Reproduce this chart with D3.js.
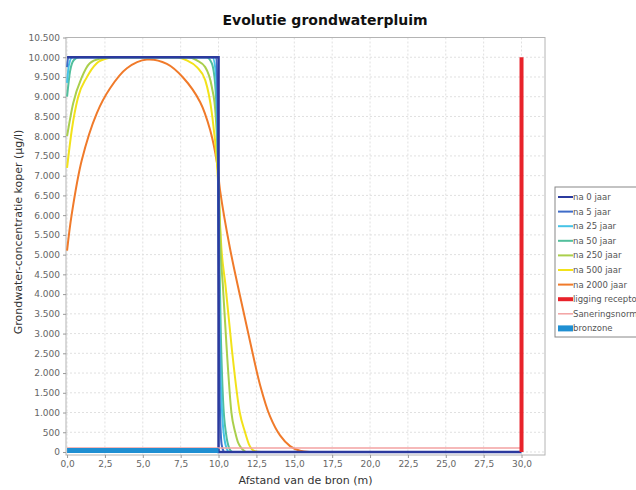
<!DOCTYPE html>
<html lang="nl">
<head>
    <meta charset="UTF-8">
    <script src="https://cdnjs.cloudflare.com/ajax/libs/d3/7.8.5/d3.min.js"></script>
    <title>Evolutie grondwaterpluim</title>
    <style>
        body { margin: 0; background: #fff; }
        text { font-family: "DejaVu Sans", Verdana, sans-serif; }
    </style>
</head>
<body>
<script>
    // afstand (m) en concentratie (µg/l) per tijdstip
    var na0 = [[0,10000],[10,10000],[10,0],[30,0]];
    var na5 = [[0,9750],[0.08,10000],[9.85,10000],[9.95,8500],[10.0,5000],[10.07,1500],[10.2,200],[10.35,0]];
    var na25 = [[0,9350],[0.12,9800],[0.35,10000],[9.6,10000],[9.82,9600],[9.95,7800],[10.02,5000],[10.1,2600],[10.25,900],[10.45,200],[10.65,0]];
    var na50 = [[0,9000],[0.2,9650],[0.45,9930],[0.8,10000],[9.2,10000],[9.55,9850],[9.8,9200],[9.95,7500],[10.05,5000],[10.15,3000],[10.3,1300],[10.5,450],[10.7,100],[10.9,0]];
    var na250 = [[0,8000],[0.4,8830],[0.97,9490],[1.5,9850],[2.2,9970],[2.8,10000],[8.0,10000],[8.57,9920],[9.12,9750],[9.56,9240],[9.8,8580],[10.0,7000],[10.15,5000],[10.28,4250],[10.54,2600],[10.85,1000],[11.1,500],[11.3,230],[11.8,0]];
    var na500 = [[0,7200],[0.31,8150],[0.73,8990],[1.3,9490],[1.96,9850],[2.6,9970],[3.2,10000],[7.2,10000],[7.9,9920],[8.57,9750],[9.12,9420],[9.56,8580],[9.9,7300],[10.2,5100],[10.45,4250],[10.88,2600],[11.4,1000],[11.75,500],[12.0,200],[12.4,20],[12.8,0]];
    var na2000 = [[0,5100],[0.3,6000],[0.97,7390],[1.96,8580],[2.84,9215],[3.95,9720],[5.27,9940],[6.59,9830],[7.67,9480],[8.79,8860],[9.45,8150],[9.9,7316],[10.1,6630],[10.76,5150],[11.42,3950],[12.08,2800],[12.74,1700],[13.4,900],[14.06,420],[14.72,150],[15.38,30],[16,0]];
    var receptor = [[30,0],[30,10000]];
    var norm = [[0,100],[30,100]];
    var bron = [[0,40],[10,40]];

    var xTicks = [0,2.5,5,7.5,10,12.5,15,17.5,20,22.5,25,27.5,30];
    var yTicks = d3.range(0, 10501, 500);

    var legendNames = ['na 0 jaar','na 5 jaar','na 25 jaar','na 50 jaar','na 250 jaar','na 500 jaar','na 2000 jaar','ligging receptor','Saneringsnorm','bronzone'];
    var legendColors = ['#2b3a9e','#3f6cc8','#46c3e6','#52bf9c','#aacf4c','#f2e21a','#f07a2a','#e8222a','#f3a2a2','#1f8fd2'];
    var legendWidths = [2,2,2,2,2,2,2,4,1.5,6];

    var width = 636, height = 490;
    var pl = 66, pr = 545, pt = 37.5, pb = 455;

    var x = d3.scaleLinear().domain([-0.07, 31.55]).range([pl, pr]);
    var y = d3.scaleLinear().domain([-76, 10500]).range([pb, pt]);

    var svg = d3.select('body').append('svg')
        .attr('width', width).attr('height', height);

    // rasterlijnen
    svg.append('g').selectAll('line').data(xTicks).enter().append('line')
        .attr('x1', d => x(d)).attr('x2', d => x(d))
        .attr('y1', pt).attr('y2', pb)
        .attr('stroke', '#e0e0e0').attr('stroke-dasharray', '2,2');
    svg.append('g').selectAll('line').data(yTicks).enter().append('line')
        .attr('x1', pl).attr('x2', pr)
        .attr('y1', d => y(d)).attr('y2', d => y(d))
        .attr('stroke', '#e0e0e0').attr('stroke-dasharray', '2,2');

    svg.append('rect')
        .attr('x', pl).attr('y', pt)
        .attr('width', pr - pl).attr('height', pb - pt)
        .attr('fill', 'none').attr('stroke', '#b4b4b4');

    var fmtY = d3.formatLocale({decimal: ',', thousands: '.', grouping: [3], currency: ['€','']}).format(',d');
    var fmtX = d => d.toFixed(1).replace('.', ',');

    var xAxis = svg.append('g').attr('transform', 'translate(0,' + pb + ')')
        .call(d3.axisBottom(x).tickValues(xTicks).tickFormat(fmtX).tickSize(3).tickPadding(3));
    var yAxis = svg.append('g').attr('transform', 'translate(' + pl + ',0)')
        .call(d3.axisLeft(y).tickValues(yTicks).tickFormat(fmtY).tickSize(3).tickPadding(3));
    [xAxis, yAxis].forEach(function (a) {
        a.select('.domain').remove();
        a.selectAll('line').attr('stroke', '#999');
        a.selectAll('text').attr('fill', '#666').style('font-size', '9px');
    });

    var line = d3.line().x(d => x(d[0])).y(d => y(d[1]));
    var smooth = d3.line().x(d => x(d[0])).y(d => y(d[1])).curve(d3.curveMonotoneX);
    var round = d3.line().x(d => x(d[0])).y(d => y(d[1])).curve(d3.curveCatmullRom);

    var curves = [na2000, na500, na250, na50, na25, na5];
    var curveIdx = [6, 5, 4, 3, 2, 1];
    curves.forEach(function (c, i) {
        svg.append('path').datum(c)
            .attr('d', c === na2000 ? round : smooth)
            .attr('fill', 'none')
            .attr('stroke', legendColors[curveIdx[i]])
            .attr('stroke-width', 2);
    });

    svg.append('path').datum(na0).attr('d', line).attr('fill', 'none')
        .attr('stroke', legendColors[0]).attr('stroke-width', 2.5);
    svg.append('path').datum(norm).attr('d', line).attr('fill', 'none')
        .attr('stroke', legendColors[8]).attr('stroke-width', 1.5);
    svg.append('path').datum(bron).attr('d', line).attr('fill', 'none')
        .attr('stroke', legendColors[9]).attr('stroke-width', 5);
    svg.append('path').datum(receptor).attr('d', line).attr('fill', 'none')
        .attr('stroke', legendColors[7]).attr('stroke-width', 4);

    // titels
    svg.append('text').attr('x', 325).attr('y', 25).attr('text-anchor', 'middle')
        .style('font-size', '14px').style('font-weight', 'bold').attr('fill', '#111')
        .text('Evolutie grondwaterpluim');
    svg.append('text').attr('x', (pl + pr) / 2).attr('y', 484).attr('text-anchor', 'middle')
        .style('font-size', '11px').attr('fill', '#333')
        .text('Afstand van de bron (m)');
    svg.append('text').attr('transform', 'translate(22,232) rotate(-90)')
        .attr('text-anchor', 'middle')
        .style('font-size', '11px').attr('fill', '#333')
        .text('Grondwater-concentratie koper (µg/l)');

    // legenda
    var lg = svg.append('g').attr('transform', 'translate(555,187)');
    lg.append('rect').attr('width', 100).attr('height', 150)
        .attr('fill', '#fff').attr('stroke', '#888');
    var item = lg.selectAll('g.item').data(legendNames).enter().append('g')
        .attr('transform', (d, i) => 'translate(0,' + (10 + i * 14.6) + ')');
    item.append('line').attr('x1', 3).attr('x2', 18)
        .attr('stroke', (d, i) => legendColors[i])
        .attr('stroke-width', (d, i) => legendWidths[i]);
    item.append('text').attr('x', 18).attr('y', 3)
        .style('font-size', '8.5px').attr('fill', '#555')
        .text(d => d);
</script>
</body>
</html>
